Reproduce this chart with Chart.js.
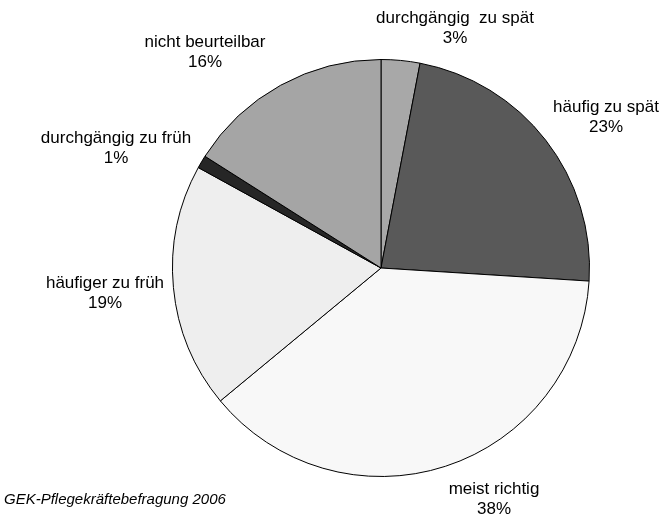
<!DOCTYPE html>
<html>
<head>
<meta charset="utf-8">
<script src="https://cdn.jsdelivr.net/npm/chart.js@4/dist/chart.umd.min.js"></script>
<style>
  html, body { margin: 0; padding: 0; background: #ffffff; }
  #wrap { position: relative; width: 663px; height: 516px; }
  canvas { display: block; }
</style>
</head>
<body>
<div id="wrap"><canvas id="c" width="663" height="516"></canvas></div>
<script>
// Einschätzung des Zeitpunkts – Anteile in Prozent (im Uhrzeigersinn ab 12 Uhr)
const categories = [
  'durchgängig  zu spät',
  'häufig zu spät',
  'meist richtig',
  'häufiger zu früh',
  'durchgängig zu früh',
  'nicht beurteilbar'
];
const shares = [3, 23, 38, 19, 1, 16];
const sliceColors = ['#a8a8a8', '#595959', '#f8f8f8', '#eeeeee', '#262626', '#a5a5a5'];

// Beschriftungspositionen (Mitte der ersten Zeile) je Segment
const labelPos = [
  [455, 18], [606, 107], [494, 489], [105, 283], [116, 138], [205, 42]
];
const sourceNote = 'GEK-Pflegekräftebefragung 2006';

const FONT = '"Liberation Sans", Arial, sans-serif';

const sliceLabels = {
  id: 'sliceLabels',
  afterDraw(chart) {
    const ctx = chart.ctx;
    const data = chart.data.datasets[0].data;
    ctx.save();
    ctx.fillStyle = '#000';
    ctx.font = '17px ' + FONT;
    ctx.textAlign = 'center';
    ctx.textBaseline = 'middle';
    chart.data.labels.forEach((lab, i) => {
      const [x, y] = labelPos[i];
      ctx.fillText(lab, x, y);
      ctx.fillText(data[i] + '%', x, y + 20);
    });
    ctx.font = 'italic 15px ' + FONT;
    ctx.textAlign = 'left';
    ctx.fillText(sourceNote, 4, 500);
    ctx.restore();
  }
};

new Chart(document.getElementById('c'), {
  type: 'pie',
  data: {
    labels: categories,
    datasets: [{
      data: shares,
      backgroundColor: sliceColors,
      borderColor: '#000000',
      borderWidth: 1
    }]
  },
  options: {
    responsive: false,
    animation: false,
    events: [],
    layout: { padding: { left: 172, right: 73, top: 58, bottom: 38 } },
    plugins: {
      legend: { display: false },
      tooltip: { enabled: false },
      title: { display: false }
    }
  },
  plugins: [sliceLabels]
});
</script>
</body>
</html>
